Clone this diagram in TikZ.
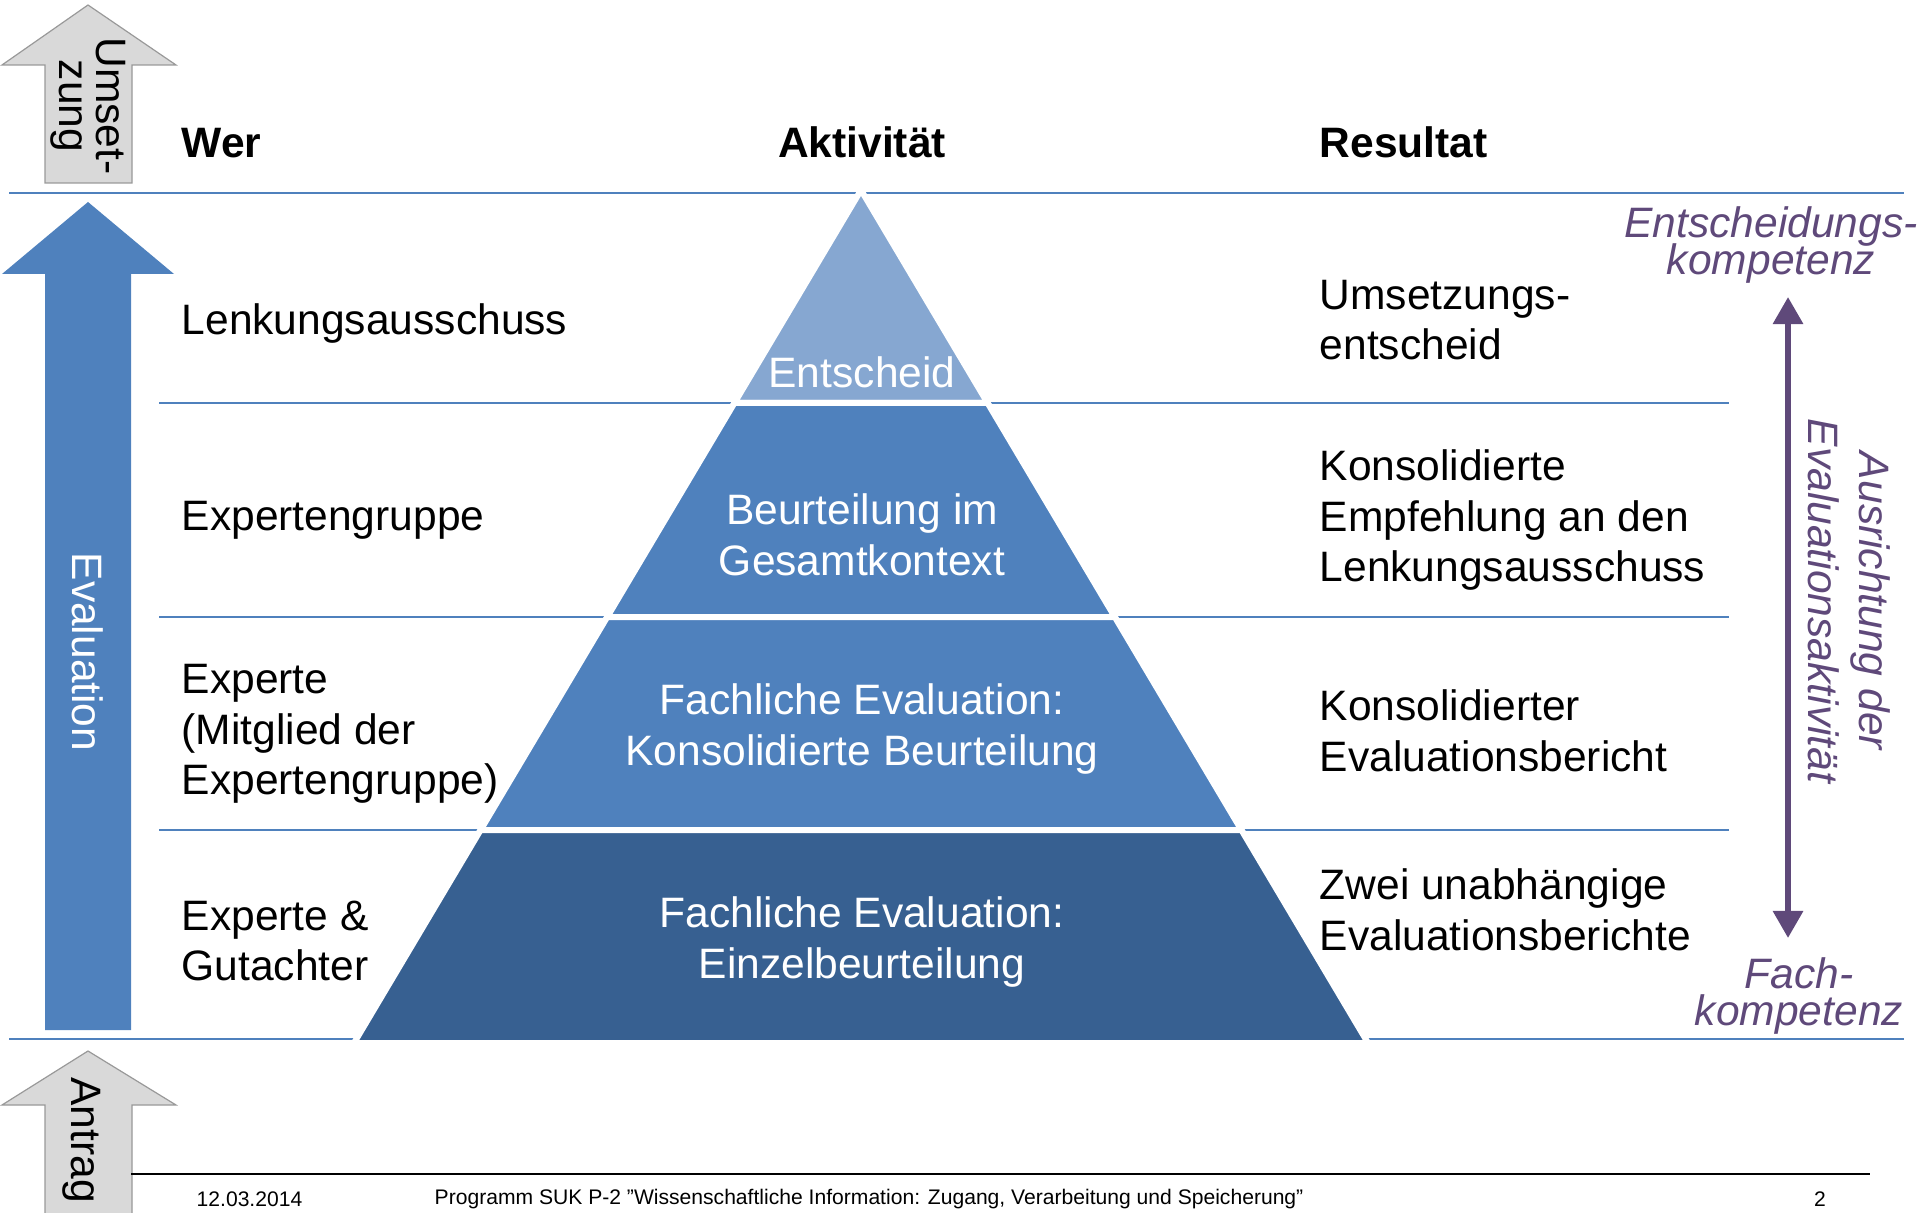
\documentclass[tikz,border=0pt]{standalone}
\usepackage{fontspec}
\setmainfont{Liberation Sans}
\usetikzlibrary{arrows.meta,calc}
\definecolor{lineblue}{RGB}{79,129,189}
\definecolor{layer1}{RGB}{134,167,209}
\definecolor{layer2}{RGB}{79,129,189}
\definecolor{layer4}{RGB}{55,96,145}
\definecolor{arrowgrey}{RGB}{217,217,217}
\definecolor{darkpurple}{RGB}{95,73,122}
\newcommand\tightlines{\fontsize{12.1}{10.6}\selectfont\lineskiplimit-20pt\relax}

\begin{document}
\begin{tikzpicture}[x=0.01cm,y=-0.01cm,
  bigfont/.style={font=\fontsize{12.1}{14.4}\selectfont},
  lefttext/.style={bigfont,anchor=west,align=left,inner sep=0pt},
  headtext/.style={font=\bfseries\fontsize{12.1}{14.4}\selectfont,anchor=base,inner sep=0pt},
  pyrtext/.style={bigfont,white,align=center,inner sep=0pt},
  arrowtext/.style={rotate=-90,align=center,inner sep=0pt,font=\tightlines},
  purpletext/.style={darkpurple,align=center,inner sep=0pt,font=\itshape\tightlines},
  rowline/.style={lineblue,line width=0.025cm},
  layer/.style={draw=white,line width=0.06cm,line join=miter},
  greyarrow/.style={fill=arrowgrey,draw=gray!80,line width=0.012cm},
  purplearrow/.style={darkpurple,line width=0.06cm,
    arrows={Triangle[width=0.29cm,length=0.27cm]-Triangle[width=0.29cm,length=0.27cm]}},
  foot/.style={font=\fontsize{6}{7}\selectfont,inner sep=0pt}]
\useasboundingbox (0,0) rectangle (1919,1213);

% horizontal rules
\draw[rowline] (9,193) -- (1904,193);
\draw[rowline] (9,1039) -- (1904,1039);
\foreach \y in {403,617,830}
  \draw[rowline] (159,\y) -- (1729,\y);

% headers
\node[headtext,anchor=base west] (wer) at (181,158) {Wer};
\node[headtext] (aktivitaet) at (862,158) {Aktivität};
\node[headtext,anchor=base west] (resultat) at (1319,158) {Resultat};

% pyramid
\coordinate (apex) at (861,190);
\coordinate (bl) at (354,1043);
\coordinate (br) at (1368,1043);
\filldraw[layer,fill=layer1] (apex) -- ($(apex)!0.2497!(bl)$) -- ($(apex)!0.2497!(br)$) -- cycle;
\foreach \a/\b/\c in {0.2497/0.5006/layer2,0.5006/0.7503/layer2,0.7503/1/layer4}
  \filldraw[layer,fill=\c] ($(apex)!\a!(bl)$) -- ($(apex)!\b!(bl)$) -- ($(apex)!\b!(br)$) -- ($(apex)!\a!(br)$) -- cycle;
\node[pyrtext,anchor=base] (entscheid) at (862,388) {Entscheid};
\node[pyrtext] (gesamt) at (862,535) {Beurteilung im\\Gesamtkontext};
\node[pyrtext] (konsol) at (862,729) {Fachliche Evaluation:\\Konsolidierte Beurteilung};
\node[pyrtext] (einzel) at (862,942) {Fachliche Evaluation:\\Einzelbeurteilung};

% who / result columns
\foreach \y/\t [count=\i] in {324/Lenkungsausschuss,520/Expertengruppe,
  734/{Experte\\(Mitglied der\\Expertengruppe)},941/{Experte \&\\Gutachter}}
  \node[lefttext] (wer\i) at (181,\y) {\t};
\foreach \y/\t [count=\i] in {320/{Umsetzungs-\\entscheid},
  520/{Konsolidierte\\Empfehlung an den\\Lenkungsausschuss},
  731/{Konsolidierter\\Evaluationsbericht},910/{Zwei unabhängige\\Evaluationsberichte}}
  \node[lefttext] (res\i) at (1319,\y) {\t};

% arrows on the left
\filldraw[greyarrow] (45,183) -- (45,65) -- (2,65) -- (88,5) -- (176,65) -- (132,65) -- (132,183) -- cycle;
\filldraw[greyarrow] (45,1225) -- (45,1105) -- (2,1105) -- (88,1051) -- (176,1105) -- (132,1105) -- (132,1225);
\fill[lineblue] (45,1030) -- (45,274) -- (2,274) -- (88,202) -- (174,274) -- (131,274) -- (131,1030) -- cycle;
\node[arrowtext] (umsetzung) at (88,106) {Umset-\\zung};
\node[arrowtext,white,font=\fontsize{12.1}{14.4}\selectfont] (evaluation) at (88,652) {Evaluation};
\node[arrowtext] (antrag) at (82,1140) {Antrag};

% competence axis on the right
\node[purpletext] (entkomp) at (1771,245) {Entscheidungs-\\kompetenz};
\node[purpletext] (fachkomp) at (1799,996) {Fach-\\kompetenz};
\coordinate (ptop) at (1788,297);
\coordinate (pbot) at (1788,938);
\draw[purplearrow] (ptop) -- (pbot);
\node[purpletext,rotate=-90,font=\itshape\fontsize{12.1}{14.4}\selectfont] (ausrichtung) at (1849,601) {Ausrichtung der\\Evaluationsaktivität};

% footer
\draw[line width=0.02cm] (131,1174) -- (1870,1174);
\node[foot,anchor=west] (datum) at (196,1199) {12.03.2014};
\node[foot,anchor=west] (programm) at (434,1199) {Programm SUK P-2 "Wissenschaftliche Information: Zugang, Verarbeitung und Speicherung"};
\node[foot] (seite) at (1820,1199) {2};
\end{tikzpicture}
\end{document}
